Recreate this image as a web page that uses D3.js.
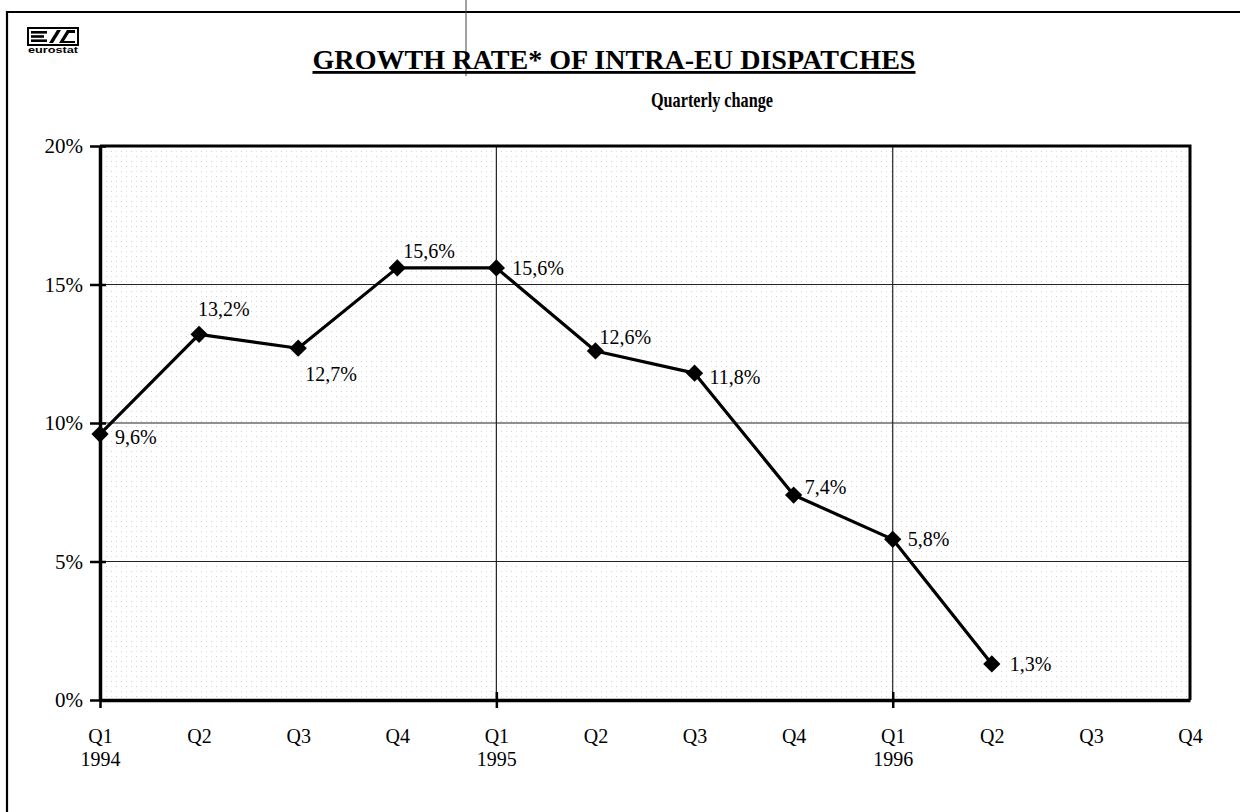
<!DOCTYPE html>
<html>
<head>
<meta charset="utf-8">
<script src="https://cdn.jsdelivr.net/npm/d3@7"></script>
<style>
  html, body { margin: 0; padding: 0; background: #fff; }
  svg { display: block; }
</style>
</head>
<body>
<svg id="chart" width="1240" height="812"></svg>
<script>
// Quarterly growth rate of intra-EU dispatches, 1994 Q1 – 1996 Q2
const quarters = ["Q1","Q2","Q3","Q4","Q1","Q2","Q3","Q4","Q1","Q2","Q3","Q4"];
const years = ["1994","","","","1995","","","","1996","","",""];
const growth = [9.6, 13.2, 12.7, 15.6, 15.6, 12.6, 11.8, 7.4, 5.8, 1.3];
const yTicks = [0, 5, 10, 15, 20];

const svg = d3.select("#chart");
const serif = "'Liberation Serif', 'Times New Roman', serif";

const plot = { left: 100, right: 1190, top: 146, bottom: 700 };

const x = d3.scaleLinear().domain([0, quarters.length - 1]).range([plot.left, plot.right]);
const y = d3.scaleLinear().domain([0, 20]).range([plot.bottom, plot.top]);

const fmt = v => d3.format(".1f")(v).replace(".", ",") + "%";

// outer frame (top and left edges)
svg.append("path")
  .attr("d", "M7,812 V12 H1240")
  .attr("fill", "none").attr("stroke", "#000").attr("stroke-width", 2.2);

// faint fold crease across the header
svg.append("line")
  .attr("x1", 466).attr("x2", 466).attr("y1", 0).attr("y2", 76)
  .attr("stroke", "#444").attr("stroke-width", 1);

// logo
const logo = svg.append("g").attr("transform", "translate(28,28)");
logo.append("rect").attr("x", 0).attr("y", 0).attr("width", 50).attr("height", 17)
  .attr("fill", "#fff").attr("stroke", "#000").attr("stroke-width", 2);
logo.append("rect").attr("x", 3).attr("y", 3).attr("width", 16).attr("height", 2.6).attr("fill", "#000");
logo.append("rect").attr("x", 3).attr("y", 7.2).attr("width", 13).attr("height", 2.6).attr("fill", "#000");
logo.append("rect").attr("x", 3).attr("y", 11.4).attr("width", 16).attr("height", 2.6).attr("fill", "#000");
logo.append("path").attr("d", "M21,15 L29,2 L33,2 L25,15 Z").attr("fill", "#000");
logo.append("path").attr("d", "M31,15 L39,2 L47,2 L47,5 L41,5 L36,13 L47,13 L47,15 Z").attr("fill", "#000");
svg.append("text")
  .attr("x", 53).attr("y", 53).attr("text-anchor", "middle")
  .attr("font-family", "'Liberation Sans', Arial, sans-serif")
  .attr("font-weight", "bold").attr("font-size", 9.5)
  .attr("textLength", 50).attr("lengthAdjust", "spacingAndGlyphs")
  .text("eurostat");

// titles
svg.append("text")
  .attr("x", 614).attr("y", 69).attr("text-anchor", "middle")
  .attr("font-family", serif).attr("font-weight", "bold").attr("font-size", 28)
  .attr("text-decoration", "underline")
  .attr("textLength", 603).attr("lengthAdjust", "spacingAndGlyphs")
  .text("GROWTH RATE* OF INTRA-EU DISPATCHES");
svg.append("text")
  .attr("x", 712).attr("y", 107).attr("text-anchor", "middle")
  .attr("font-family", serif).attr("font-weight", "bold").attr("font-size", 21)
  .attr("textLength", 122).attr("lengthAdjust", "spacingAndGlyphs")
  .text("Quarterly change");

// stippled plot background
const defs = svg.append("defs");
const pat = defs.append("pattern").attr("id", "stipple")
  .attr("patternUnits", "userSpaceOnUse").attr("width", 10).attr("height", 10);
[[1,1],[6,1],[1,6],[6,6]].forEach(([px, py], i) => {
  pat.append("rect").attr("x", px).attr("y", py).attr("width", 1).attr("height", 1)
    .attr("fill", "#000").attr("opacity", i % 3 === 0 ? 0.2 : 0.1);
});
svg.append("rect")
  .attr("x", plot.left).attr("y", plot.top)
  .attr("width", plot.right - plot.left).attr("height", plot.bottom - plot.top)
  .attr("fill", "url(#stipple)");

// horizontal gridlines
svg.append("g").selectAll("line")
  .data(yTicks.filter(t => t > 0 && t < 20))
  .join("line")
  .attr("x1", plot.left).attr("x2", plot.right)
  .attr("y1", d => y(d)).attr("y2", d => y(d))
  .attr("stroke", "#222").attr("stroke-width", 1.2);

// vertical gridlines at each new year
svg.append("g").selectAll("line")
  .data(years.map((yr, i) => yr ? i : null).filter(i => i !== null && i > 0))
  .join("line")
  .attr("x1", d => x(d)).attr("x2", d => x(d))
  .attr("y1", plot.top).attr("y2", plot.bottom)
  .attr("stroke", "#222").attr("stroke-width", 1.2);

// plot frame
svg.append("path")
  .attr("d", `M${plot.left},${plot.top} H${plot.right} V${plot.bottom}`)
  .attr("fill", "none").attr("stroke", "#000").attr("stroke-width", 3);

// y axis
const yAxis = svg.append("g")
  .attr("transform", `translate(${plot.left},0)`)
  .call(d3.axisLeft(y).tickValues(yTicks).tickFormat(d => d + "%").tickSize(0).tickPadding(17));
yAxis.select(".domain").attr("stroke-width", 3.5);
yAxis.selectAll(".tick line").remove();
yAxis.selectAll(".tick").append("line")
  .attr("x1", -10).attr("x2", 6).attr("stroke", "#000").attr("stroke-width", 2.5);
yAxis.selectAll("text")
  .attr("font-family", serif).attr("font-size", 21).attr("fill", "#000")
  .attr("dy", "0.32em");

// x axis
const xAxis = svg.append("g")
  .attr("transform", `translate(0,${plot.bottom})`)
  .call(d3.axisBottom(x).tickValues(d3.range(quarters.length)).tickFormat(i => quarters[i]).tickSize(0).tickPadding(29));
xAxis.select(".domain").attr("stroke-width", 3.5);
xAxis.selectAll(".tick").filter(i => years[i] !== "").append("line")
  .attr("y1", -8).attr("y2", 8).attr("stroke", "#000").attr("stroke-width", 2.5);
xAxis.selectAll(".tick text")
  .attr("font-family", serif).attr("font-size", 20).attr("fill", "#000");
xAxis.selectAll(".tick").append("text")
  .attr("y", 66).attr("text-anchor", "middle")
  .attr("font-family", serif).attr("font-size", 20).attr("fill", "#000")
  .text(i => years[i]);

// growth line
svg.append("path")
  .datum(growth)
  .attr("fill", "none").attr("stroke", "#000").attr("stroke-width", 3.2)
  .attr("stroke-linejoin", "round")
  .attr("d", d3.line().x((d, i) => x(i)).y(d => y(d)));

// diamond markers
svg.append("g").selectAll("path")
  .data(growth)
  .join("path")
  .attr("transform", (d, i) => `translate(${x(i)},${y(d)})`)
  .attr("d", d3.symbol(d3.symbolDiamond2, 190))
  .attr("fill", "#000");

// value labels, offset from each marker
const labelOffsets = [[15,10],[-1,-18],[7,33],[6,-10],[16,7],[4,-7],[15,11],[11,-1],[15,7],[18,7]];
svg.append("g").selectAll("text")
  .data(growth)
  .join("text")
  .attr("x", (d, i) => x(i) + labelOffsets[i][0])
  .attr("y", (d, i) => y(d) + labelOffsets[i][1])
  .attr("font-family", serif).attr("font-size", 20).attr("fill", "#000")
  .text(d => fmt(d));
</script>
</body>
</html>
